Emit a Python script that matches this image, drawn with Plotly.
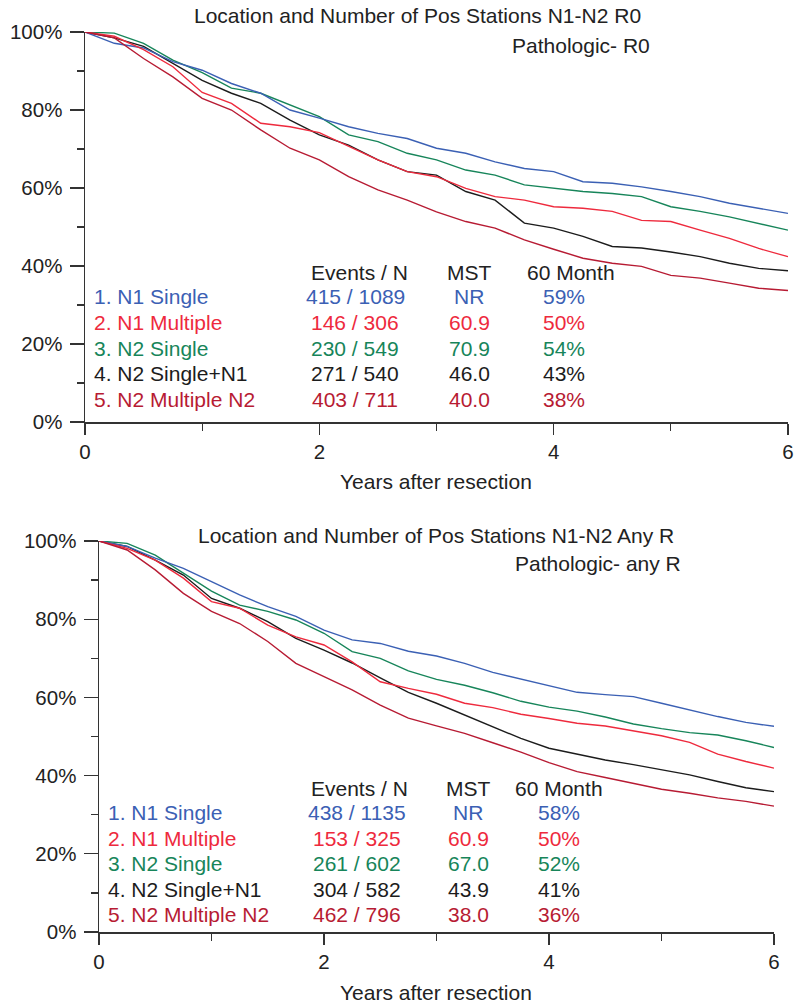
import plotly.graph_objects as go

W, H = 799, 1005

years = [0, 0.25, 0.5, 0.75, 1, 1.25, 1.5, 1.75, 2, 2.25, 2.5, 2.75, 3,
         3.25, 3.5, 3.75, 4, 4.25, 4.5, 4.75, 5, 5.25, 5.5, 5.75, 6]

# Panel 1: Pathologic R0 (survival %)
r0_n1_single = [100, 97.1, 95.9, 92.4, 90.2, 86.8, 84.3, 80.0, 77.9, 75.7, 74.0, 72.7, 70.2,
                68.9, 66.7, 65.0, 64.2, 61.6, 61.2, 60.3, 59.1, 57.8, 56.1, 54.8, 53.5]
r0_n1_multiple = [100, 98.9, 95.5, 91.1, 84.5, 81.7, 76.6, 75.7, 74.2, 70.6, 67.2, 64.2, 62.9,
                  59.9, 57.8, 56.9, 55.2, 54.8, 54.0, 51.7, 51.4, 49.2, 47.1, 44.5, 42.4]
r0_n2_single = [100, 99.7, 97.1, 92.8, 89.6, 85.6, 84.3, 81.3, 78.3, 73.6, 71.9, 68.9, 67.2,
                64.6, 63.3, 60.8, 60.0, 59.1, 58.6, 57.8, 55.2, 54.0, 52.6, 50.9, 49.2]
r0_n2_single_n1 = [100, 98.5, 96.3, 92.0, 87.6, 84.3, 81.7, 77.4, 73.6, 71.0, 67.2, 64.2, 63.3,
                   59.1, 56.9, 51.0, 49.7, 47.6, 45.0, 44.6, 43.6, 42.4, 40.7, 39.4, 38.8]
r0_n2_multiple = [100, 98.5, 93.2, 88.5, 83.0, 80.0, 74.9, 70.2, 67.2, 62.9, 59.5, 56.9, 53.9,
                  51.4, 49.7, 46.7, 44.3, 42.0, 40.7, 39.9, 37.6, 36.9, 35.6, 34.3, 33.7]

# Panel 2: Pathologic any R (survival %)
anyr_n1_single = [100, 98.6, 95.6, 93.0, 89.6, 86.2, 83.2, 80.7, 77.2, 74.7, 73.8, 71.8, 70.6,
                  68.7, 66.4, 64.7, 63.0, 61.3, 60.7, 60.2, 58.5, 56.8, 55.1, 53.6, 52.6]
anyr_n1_multiple = [100, 98.1, 95.1, 90.5, 84.5, 82.8, 78.5, 75.5, 73.4, 69.1, 64.0, 62.3, 60.8,
                    58.5, 57.4, 55.7, 54.6, 53.4, 52.7, 51.4, 50.2, 48.5, 45.5, 43.6, 41.9]
anyr_n2_single = [100, 99.4, 96.4, 91.7, 87.2, 83.6, 82.0, 79.8, 76.4, 71.7, 70.0, 66.8, 64.6,
                  63.1, 61.2, 59.0, 57.5, 56.5, 55.0, 53.2, 52.0, 51.0, 50.4, 48.9, 47.2]
anyr_n2_single_n1 = [100, 98.6, 95.1, 91.3, 85.3, 82.8, 79.4, 75.1, 72.1, 68.8, 65.0, 61.3, 58.5,
                     55.5, 52.5, 49.5, 47.0, 45.5, 44.0, 42.8, 41.5, 40.2, 38.5, 36.9, 35.9]
anyr_n2_multiple = [100, 97.7, 92.6, 86.6, 82.0, 78.9, 74.3, 68.7, 65.3, 61.9, 58.0, 54.7, 52.7,
                    50.8, 48.4, 46.0, 43.3, 41.0, 39.5, 38.0, 36.5, 35.5, 34.3, 33.4, 32.2]

group_labels = ["1. N1 Single", "2. N1 Multiple", "3. N2 Single",
                "4. N2 Single+N1", "5. N2 Multiple N2"]
group_colors = ["#3b60b4", "#ee2a3d", "#17855a", "#1c1c1c", "#b71b33"]

r0_events = ["415 / 1089", "146 / 306", "230 / 549", "271 / 540", "403 / 711"]
r0_mst = ["NR", "60.9", "70.9", "46.0", "40.0"]
r0_60m = ["59%", "50%", "54%", "43%", "38%"]

anyr_events = ["438 / 1135", "153 / 325", "261 / 602", "304 / 582", "462 / 796"]
anyr_mst = ["NR", "60.9", "67.0", "43.9", "38.0"]
anyr_60m = ["58%", "50%", "52%", "41%", "36%"]

y_ticks = [0, 20, 40, 60, 80, 100]
y_tick_text = ["0%", "20%", "40%", "60%", "80%", "100%"]
y_minor = [10, 30, 50, 70, 90]
x_ticks = [0, 2, 4, 6]
x_minor = [1, 3, 5]

FONT = "Liberation Sans, Arial, Helvetica, sans-serif"
TXT = "#222222"
AX = "#333333"
FS = 21


def px(x):
    return x / W


def py(y):
    return 1 - y / H


fig = go.Figure()

r0_series = [r0_n1_single, r0_n1_multiple, r0_n2_single, r0_n2_single_n1, r0_n2_multiple]
anyr_series = [anyr_n1_single, anyr_n1_multiple, anyr_n2_single, anyr_n2_single_n1, anyr_n2_multiple]

order = [3, 2, 0, 1, 4]
for i in order:
    fig.add_trace(go.Scatter(x=years, y=r0_series[i], mode="lines", xaxis="x", yaxis="y",
                             line=dict(color=group_colors[i], width=1.4), showlegend=False,
                             name=group_labels[i]))
for i in order:
    fig.add_trace(go.Scatter(x=years, y=anyr_series[i], mode="lines", xaxis="x2", yaxis="y2",
                             line=dict(color=group_colors[i], width=1.4), showlegend=False,
                             name=group_labels[i]))


def xaxis_cfg(domain):
    return dict(domain=domain, range=[0, 6], tickmode="array", tickvals=x_ticks,
                ticks="outside", ticklen=11, tickwidth=1.3, tickcolor=AX,
                minor=dict(tickmode="array", tickvals=x_minor, ticks="outside", ticklen=7,
                           tickwidth=1.3, tickcolor=AX, showgrid=False),
                showline=True, linecolor=AX, linewidth=1.5, showgrid=False, zeroline=False,
                tickfont=dict(family=FONT, size=20.5, color=TXT), ticklabelstandoff=0,
                automargin=False, fixedrange=True)


def yaxis_cfg(domain, anchor):
    return dict(domain=domain, range=[0, 100], tickmode="array", tickvals=y_ticks,
                ticktext=y_tick_text, ticks="outside", ticklen=14, tickwidth=1.3, tickcolor=AX,
                minor=dict(tickmode="array", tickvals=y_minor, ticks="outside", ticklen=7,
                           tickwidth=1.3, tickcolor=AX, showgrid=False),
                showline=True, linecolor=AX, linewidth=1.5, showgrid=False, zeroline=False,
                tickfont=dict(family=FONT, size=20.5, color=TXT), ticklabelstandoff=3,
                automargin=False, anchor=anchor, fixedrange=True)


annotations = []


def text(x, y, s, color=TXT, xanchor="left"):
    annotations.append(dict(x=px(x), y=py(y), xref="paper", yref="paper", text=s,
                            showarrow=False, xanchor=xanchor, yanchor="middle",
                            font=dict(family=FONT, size=FS, color=color)))


# Panel 1 texts
text(417, 15, "Location and Number of Pos Stations N1-N2 R0", xanchor="center")
text(652, 45, "Pathologic- R0", xanchor="right")
text(436, 481, "Years after resection", xanchor="center")
text(309, 272, "Events / N")
text(469, 272, "MST", xanchor="center")
text(571, 272, "60 Month", xanchor="center")
row_y1 = [296, 322, 348, 373, 399]
for i in range(5):
    c = group_colors[i]
    text(92, row_y1[i], group_labels[i], c)
    text(355, row_y1[i], r0_events[i], c, "center")
    text(469, row_y1[i], r0_mst[i], c, "center")
    text(564, row_y1[i], r0_60m[i], c, "center")

# Panel 2 texts
text(196, 535, "Location and Number of Pos Stations N1-N2 Any R")
text(683, 563, "Pathologic- any R", xanchor="right")
text(436, 992, "Years after resection", xanchor="center")
text(309, 788, "Events / N")
text(468, 788, "MST", xanchor="center")
text(559, 788, "60 Month", xanchor="center")
row_y2 = [812, 838, 863, 889, 914]
for i in range(5):
    c = group_colors[i]
    text(106, row_y2[i], group_labels[i], c)
    text(357, row_y2[i], anyr_events[i], c, "center")
    text(468, row_y2[i], anyr_mst[i], c, "center")
    text(559, row_y2[i], anyr_60m[i], c, "center")

fig.update_layout(
    width=W, height=H,
    margin=dict(l=0, r=0, t=0, b=0, pad=0, autoexpand=False),
    paper_bgcolor="white", plot_bgcolor="white",
    showlegend=False,
    xaxis=dict(xaxis_cfg([px(85), px(788)]), anchor="y"),
    yaxis=yaxis_cfg([py(422), py(32)], "x"),
    xaxis2=dict(xaxis_cfg([px(99), px(774)]), anchor="y2"),
    yaxis2=yaxis_cfg([py(932), py(541)], "x2"),
    annotations=annotations,
    font=dict(family=FONT, size=FS, color=TXT),
)

fig.write_html("out.html",
               config={"displayModeBar": False, "staticPlot": True},
               post_script="document.body.style.margin='0';document.body.style.padding='0';"
                           "document.body.style.overflow='hidden';")
